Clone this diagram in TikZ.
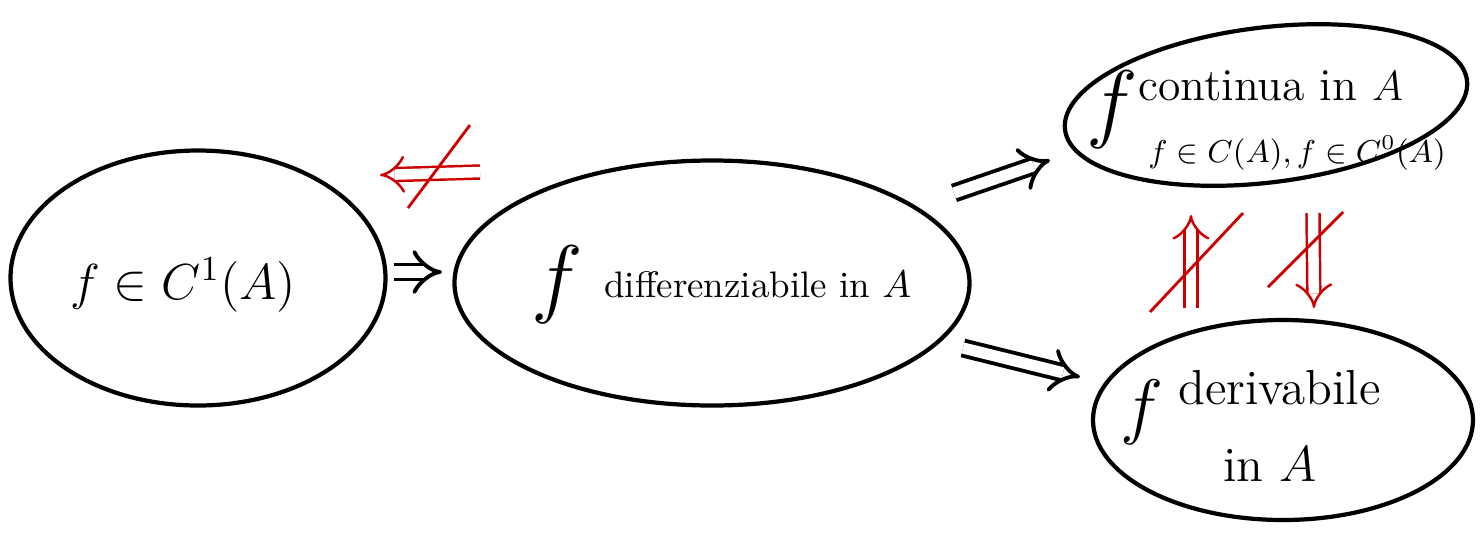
\documentclass[tikz,border=0pt]{standalone}
\usepackage{amsmath,amssymb}
\usetikzlibrary{shapes.geometric,arrows.meta}

\begin{document}
\begin{tikzpicture}
        \tikzset{bubble/.style={draw, ellipse, line width=1.2pt, inner sep=0pt},
        implies/.style={double, double distance=3.2pt, line width=1.1pt, -{Implies}},
        notimplies/.style={double, double distance=3pt, line width=0.7pt, draw=red!80!black, -{Implies}},
        cross/.style={draw=red!80!black, line width=0.8pt},
        txt/.style={inner sep=0.5pt},
        bigf/.style={txt, font=\fontsize{26}{30}\selectfont}}
        \useasboundingbox (0,0) rectangle (14.8,-5.48);
        \node[bubble, minimum width=3.75cm, minimum height=2.55cm] (C1) at (1.98,-2.78) {};
        \node[bubble, minimum width=5.15cm, minimum height=2.45cm] (D) at (7.12,-2.83) {};
        \node[bubble, minimum width=4.05cm, minimum height=1.55cm, rotate=7] (C0) at (12.66,-1.05) {};
        \node[bubble, minimum width=3.8cm, minimum height=2.0cm] (Der) at (12.83,-4.2) {};
        \node[txt, font=\fontsize{14}{17}\selectfont] (t1) at (1.83,-2.85) {$f\in C^1(A)$};
        \node[bigf] (fD) at (5.57,-2.85) {$f$};
        \node[txt, anchor=west, font=\fontsize{10.5}{12}\selectfont] (tD) at (6.02,-2.85) {differenziabile in $A$};
        \node[txt, font=\fontsize{23}{26}\selectfont] (fC) at (11.12,-1.1) {$f$};
        \node[txt, anchor=west, font=\fontsize{13}{16}\selectfont] (tC) at (11.36,-0.86) {continua in $A$};
        \node[txt, anchor=west, font=\fontsize{9}{11}\selectfont] (tC2) at (11.46,-1.53) {$f\in C(A), f\in C^0(A)$};
        \node[txt, font=\fontsize{22}{26}\selectfont] (fDer) at (11.42,-4.12) {$f$};
        \node[txt, anchor=west, font=\fontsize{14}{17}\selectfont] (tDer) at (11.76,-3.88) {derivabile};
        \node[txt, font=\fontsize{14}{17}\selectfont] (tDer2) at (12.7,-4.64) {in $A$};
        \coordinate (a1) at (3.94,-2.72);
        \coordinate (a2) at (4.42,-2.72);
        \coordinate (r1) at (4.8,-1.72);
        \coordinate (r2) at (3.8,-1.75);
        \coordinate (s1) at (4.7,-1.25);
        \coordinate (s2) at (4.08,-2.08);
        \coordinate (b1) at (9.54,-1.93);
        \coordinate (b2) at (10.5,-1.6);
        \coordinate (c1) at (9.63,-3.48);
        \coordinate (c2) at (10.8,-3.77);
        \coordinate (u1) at (11.91,-3.08);
        \coordinate (u2) at (11.91,-2.15);
        \coordinate (us1) at (11.5,-3.12);
        \coordinate (us2) at (12.43,-2.13);
        \coordinate (d1) at (13.13,-2.13);
        \coordinate (d2) at (13.14,-3.08);
        \coordinate (ds1) at (12.68,-2.87);
        \coordinate (ds2) at (13.43,-2.12);
        \draw[implies] (a1) -- (a2);
        \draw[implies] (b1) -- (b2);
        \draw[implies] (c1) -- (c2);
        \draw[notimplies] (r1) -- (r2);
        \draw[cross] (s1) -- (s2);
        \draw[notimplies] (u1) -- (u2);
        \draw[cross] (us1) -- (us2);
        \draw[notimplies] (d1) -- (d2);
        \draw[cross] (ds1) -- (ds2);
    \end{tikzpicture}
\end{document}
